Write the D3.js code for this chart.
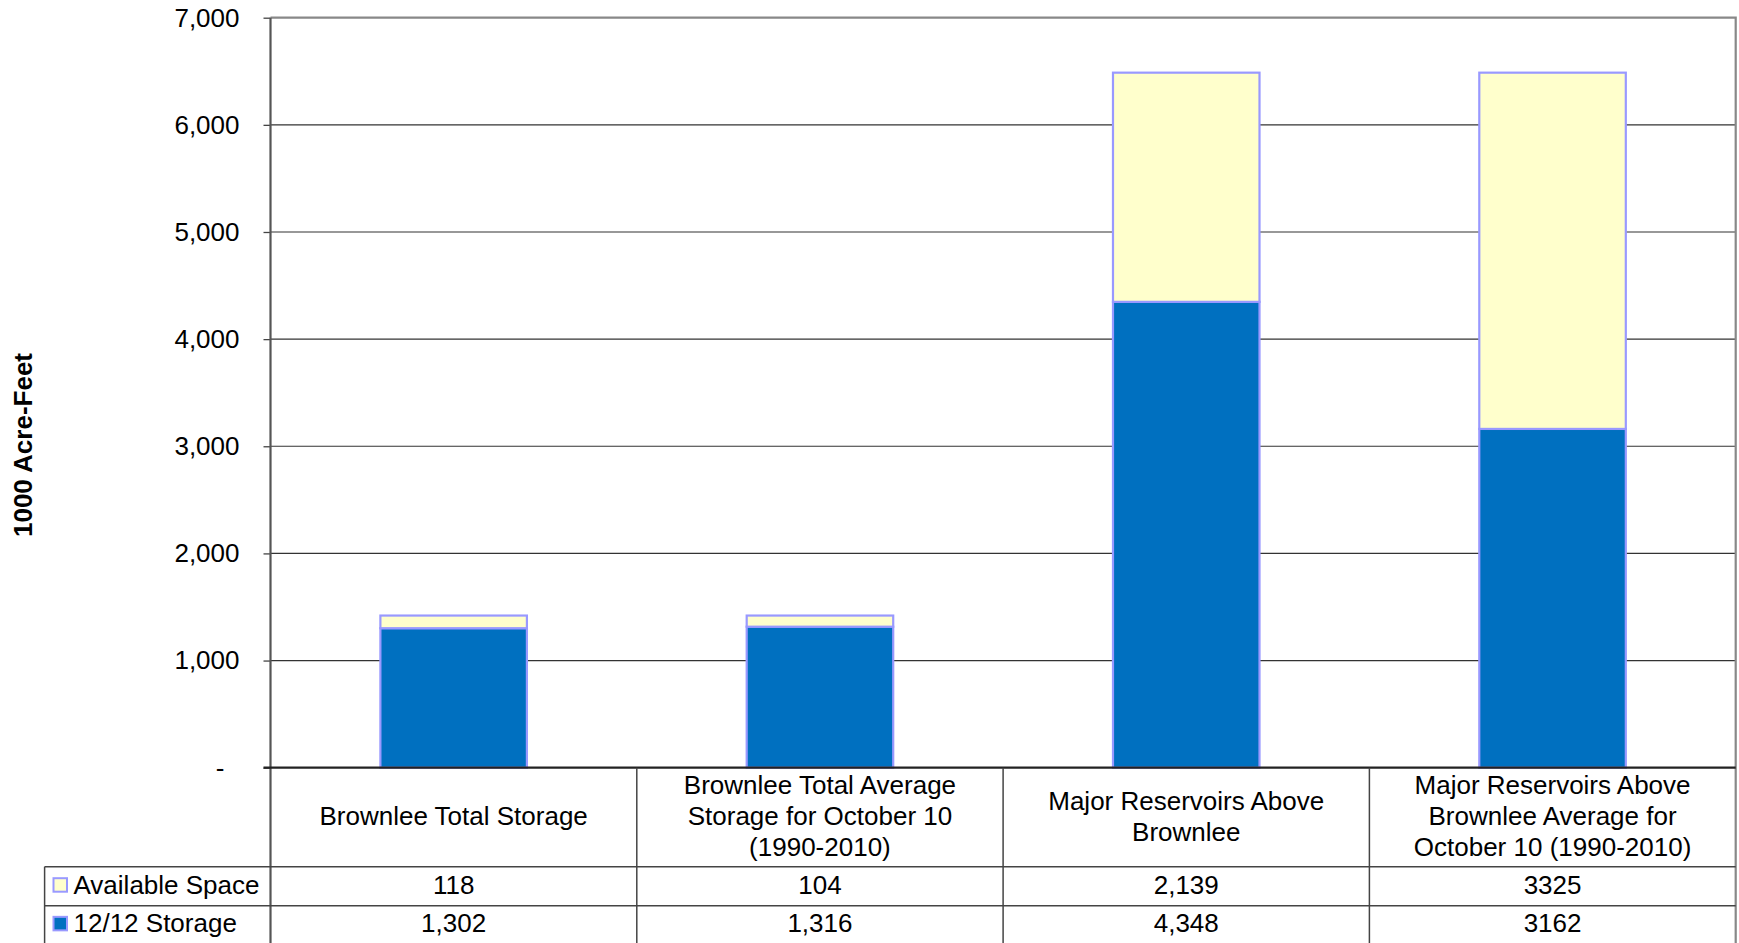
<!DOCTYPE html>
<html lang="en">
<head>
    <meta charset="UTF-8">
    <title>Brownlee storage</title>
    <style>
        body { margin: 0; background: #fff; }
        svg { display: block; }
        text { font-family: "Liberation Sans", Arial, sans-serif; fill: #000; }
    </style>
    <script src="https://d3js.org/d3.v7.min.js"></script>
</head>
<body>
<svg width="1739" height="943"></svg>
<script>
// data
var categories = [
    ["Brownlee Total Storage"],
    ["Brownlee Total Average", "Storage for October 10", "(1990-2010)"],
    ["Major Reservoirs Above", "Brownlee"],
    ["Major Reservoirs Above", "Brownlee Average for", "October 10 (1990-2010)"]
];
var seriesNames = ["12/12 Storage", "Available Space"];
var storage = [1302, 1316, 4348, 3162];
var available = [118, 104, 2139, 3325];
var storageLabels = ["1,302", "1,316", "4,348", "3162"];
var availableLabels = ["118", "104", "2,139", "3325"];
var yTicks = [0, 1000, 2000, 3000, 4000, 5000, 6000, 7000];

var colors = { "12/12 Storage": "#0070C0", "Available Space": "#FFFFCC" };
var barStroke = "#9999FF";

var svg = d3.select("svg"),
    plotLeft = 270.5, plotRight = 1735.7,
    plotTop = 17.7, plotBottom = 767.7,
    headBottom = 866.7, row1Bottom = 905.7, tableBottom = 943,
    legendLeft = 44.6;

var idx = d3.range(categories.length);

var x = d3.scaleBand().domain(idx).range([plotLeft, plotRight])
    .paddingInner(0.6).paddingOuter(0.3);
var col = d3.scaleBand().domain(idx).range([plotLeft, plotRight]);
var y = d3.scaleLinear().domain([0, 7000]).range([plotBottom, plotTop]);

// gridlines
svg.append("g").selectAll("line")
    .data(yTicks.slice(1, -1))
    .enter().append("line")
    .attr("x1", plotLeft).attr("x2", plotRight)
    .attr("y1", function(d) { return y(d); })
    .attr("y2", function(d) { return y(d); })
    .attr("stroke", "#333").attr("stroke-width", 1.2);

// plot border top + right
svg.append("path")
    .attr("d", "M" + plotLeft + "," + plotTop + "H" + plotRight + "V" + tableBottom)
    .attr("fill", "none").attr("stroke", "#888").attr("stroke-width", 2.2);

// y axis
var yAxis = svg.append("g")
    .attr("transform", "translate(" + plotLeft + ",0)")
    .call(d3.axisLeft(y).tickValues(yTicks).tickSize(7).tickPadding(24)
        .tickFormat(function(d) { return d === 0 ? "-" : d3.format(",")(d); }));
yAxis.select(".domain").remove();
yAxis.selectAll(".tick line").attr("stroke", "#444").attr("stroke-width", 1.3);
yAxis.selectAll(".tick text")
    .attr("font-size", 26).attr("fill", "#000")
    .attr("font-family", "'Liberation Sans', Arial, sans-serif")
    .attr("dx", function(d) { return d === 0 ? -15 : 0; });

svg.append("line")
    .attr("x1", plotLeft).attr("x2", plotLeft)
    .attr("y1", plotTop).attr("y2", tableBottom)
    .attr("stroke", "#555").attr("stroke-width", 2.2);

// stacked bars
var rows = idx.map(function(i) {
    return { i: i, "12/12 Storage": storage[i], "Available Space": available[i] };
});
var stacked = d3.stack().keys(seriesNames)(rows);

svg.append("g").selectAll("g")
    .data(stacked)
    .enter().append("g")
    .attr("fill", function(s) { return colors[s.key]; })
    .selectAll("rect")
    .data(function(s) { return s; })
    .enter().append("rect")
    .attr("x", function(d) { return x(d.data.i); })
    .attr("width", x.bandwidth())
    .attr("y", function(d) { return y(d[1]); })
    .attr("height", function(d) { return y(d[0]) - y(d[1]); })
    .attr("stroke", barStroke).attr("stroke-width", 2.2);

// x axis line
svg.append("line")
    .attr("x1", plotLeft - 7).attr("x2", plotRight)
    .attr("y1", plotBottom).attr("y2", plotBottom)
    .attr("stroke", "#222").attr("stroke-width", 2.2);

// y title
svg.append("text")
    .attr("transform", "translate(23,445) rotate(-90)")
    .attr("text-anchor", "middle").attr("dy", "0.35em")
    .attr("font-size", 26).attr("font-weight", "bold")
    .text("1000 Acre-Feet");

// data table
var table = svg.append("g");
var lineColor = "#444";

[headBottom, row1Bottom].forEach(function(yy) {
    table.append("line")
        .attr("x1", legendLeft).attr("x2", plotRight)
        .attr("y1", yy).attr("y2", yy)
        .attr("stroke", lineColor).attr("stroke-width", 1.5);
});
table.append("line")
    .attr("x1", legendLeft).attr("x2", legendLeft)
    .attr("y1", headBottom).attr("y2", tableBottom)
    .attr("stroke", lineColor).attr("stroke-width", 1.5);
table.selectAll(".divider")
    .data(idx.slice(1))
    .enter().append("line")
    .attr("class", "divider")
    .attr("x1", function(i) { return col(i); })
    .attr("x2", function(i) { return col(i); })
    .attr("y1", plotBottom).attr("y2", tableBottom)
    .attr("stroke", lineColor).attr("stroke-width", 1.5);

// category headers
var headMid = (plotBottom + headBottom) / 2 - 1, lineH = 31;
table.selectAll(".cat")
    .data(idx)
    .enter().append("text")
    .attr("class", "cat")
    .attr("text-anchor", "middle")
    .attr("font-size", 26)
    .each(function(i) {
        var lines = categories[i];
        var t = d3.select(this);
        lines.forEach(function(l, k) {
            t.append("tspan")
                .attr("x", col(i) + col.bandwidth() / 2)
                .attr("y", headMid + (k - (lines.length - 1) / 2) * lineH)
                .attr("dy", "0.35em")
                .text(l);
        });
    });

// value rows
var tableRows = [
    { name: "Available Space", labels: availableLabels, mid: (headBottom + row1Bottom) / 2 - 1.5 },
    { name: "12/12 Storage", labels: storageLabels, mid: (row1Bottom + tableBottom) / 2 - 1 }
];

tableRows.forEach(function(r) {
    table.append("rect")
        .attr("x", 53.5).attr("y", r.mid - 6.5)
        .attr("width", 13.5).attr("height", 13.5)
        .attr("fill", colors[r.name])
        .attr("stroke", barStroke).attr("stroke-width", 2);
    table.append("text")
        .attr("x", 73.5).attr("y", r.mid).attr("dy", "0.35em")
        .attr("font-size", 26)
        .text(r.name);
    table.selectAll(null)
        .data(idx)
        .enter().append("text")
        .attr("x", function(i) { return col(i) + col.bandwidth() / 2; })
        .attr("y", r.mid).attr("dy", "0.35em")
        .attr("text-anchor", "middle")
        .attr("font-size", 26)
        .text(function(i) { return r.labels[i]; });
});
</script>
</body>
</html>
